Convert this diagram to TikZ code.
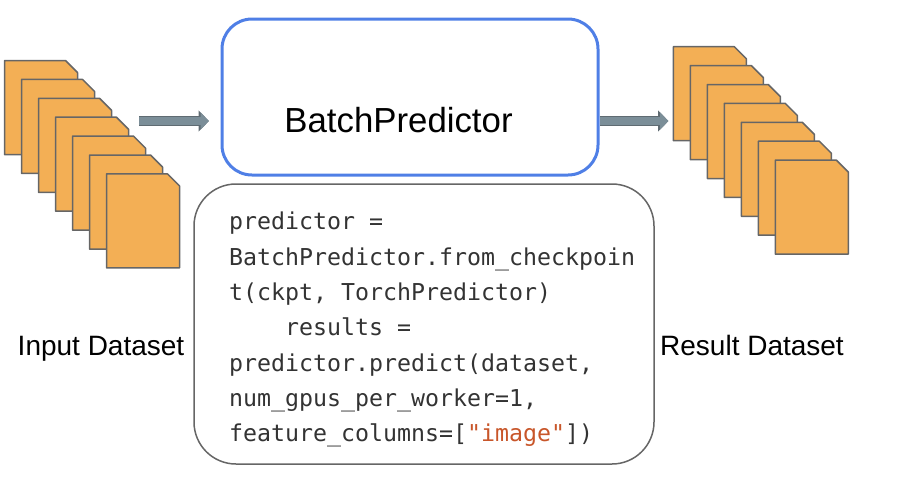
\documentclass[tikz,border=0pt]{standalone}
\usepackage{fontspec}
\setmainfont{Liberation Sans}
\setmonofont{DejaVu Sans Mono}
\usetikzlibrary{arrows.meta}

\definecolor{sheetfill}{HTML}{F3AF55}
\definecolor{edgegray}{HTML}{666666}
\definecolor{batchblue}{HTML}{4F7FE6}
\definecolor{arrowfill}{HTML}{7B8E98}
\definecolor{arrowedge}{HTML}{5F6B72}
\definecolor{codetext}{HTML}{333333}
\definecolor{codestring}{HTML}{C8562A}

\tikzset{
    sheet/.style={draw=edgegray,fill=sheetfill,line width=1.5pt,line join=round},
    batchbox/.style={draw=batchblue,line width=3pt,rounded corners=30pt,minimum width=376pt,minimum height=156pt},
    codebox/.style={draw=edgegray,line width=1.5pt,rounded corners=42pt,minimum width=460pt,minimum height=280pt},
    label/.style={font=\fontsize{28}{34}\selectfont,inner sep=0pt,anchor=base},
    blockarrow/.style={
        line width=8.5pt,draw=arrowfill,-{Triangle[length=8.5pt,width=16.5pt,fill=arrowfill]},
        preaction={draw=arrowedge,line width=10.5pt,-{Triangle[length=10.5pt,width=20.5pt,fill=arrowedge]}}
    }
}

\begin{document}
\begin{tikzpicture}[x=1pt,y=-1pt]
    \useasboundingbox (0,0) rectangle (900,488);

    \foreach \ox/\oy in {4.5/60.5,673.3/46.7}{%
        \foreach \n in {0,...,6}{%
            \draw [sheet] ({\ox+17*\n},{\oy+18.9*\n}) -- ++(61,0) -- ++(12,12) -- ++(0,82) -- ++(-73,0) -- cycle;
        }
    }

    \node [batchbox] (batch) at (410,97) {};
    \node [font=\fontsize{34.8}{42}\selectfont,inner sep=0pt] (batchname) at (398.5,120) {BatchPredictor};

    \node [codebox] (code) at (424,324) {};
    \node [anchor=north west,inner sep=0pt,align=left,text=codetext,
           font=\ttfamily\fontsize{23.25}{35.3}\selectfont] (codelines) at (229,212) {%
        predictor =\\
        BatchPredictor.from\_checkpoin\\
        t(ckpt, TorchPredictor)\\
        \ \ \ \ results =\\
        predictor.predict(dataset,\\
        num\_gpus\_per\_worker=1,\\
        feature\_columns=[\textcolor{codestring}{"image"}])};

    \node [label] (input) at (101,355) {Input Dataset};
    \node [label] (result) at (752,355) {Result Dataset};

    \coordinate (instart) at (139,121);
    \coordinate (inend) at (209,121);
    \coordinate (outstart) at (batch.east |- instart);
    \coordinate (outend) at (668.5,121);
    \draw [blockarrow] (instart) -- (inend);
    \draw [blockarrow] (outstart) -- (outend);
\end{tikzpicture}
\end{document}
